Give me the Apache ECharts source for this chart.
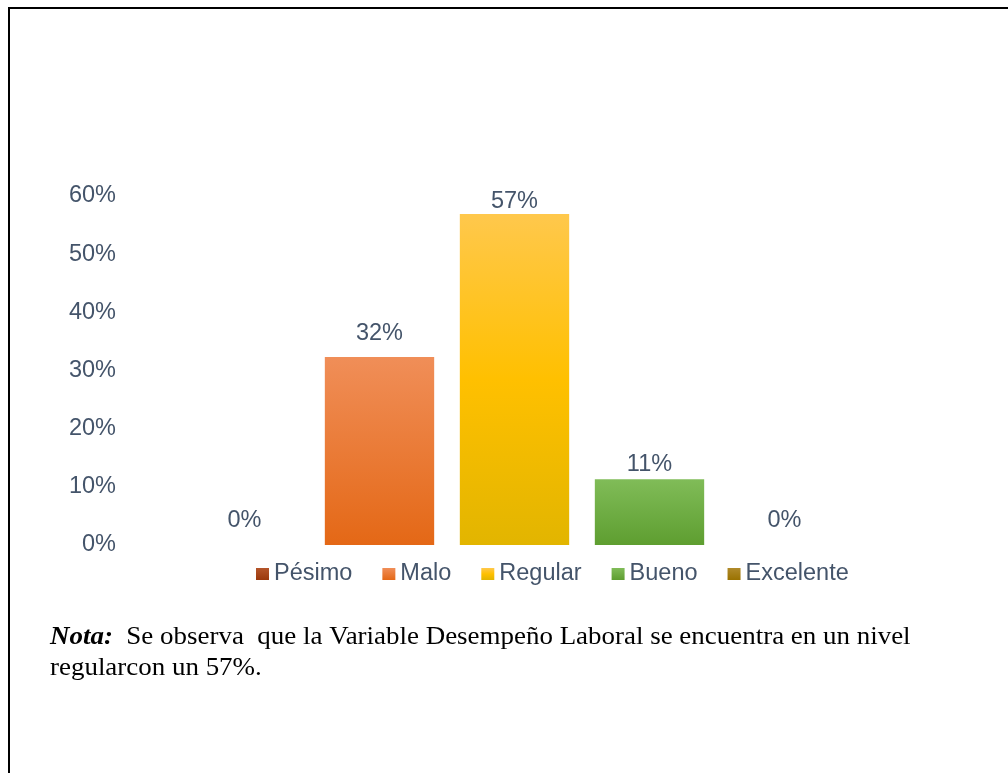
<!DOCTYPE html>
<html>
<head>
<meta charset="utf-8">
<script src="https://cdn.jsdelivr.net/npm/echarts@6/dist/echarts.min.js"></script>
<style>
html,body{margin:0;padding:0;background:#fff;}
#c{width:1008px;height:773px;}
</style>
</head>
<body>
<div id="c"></div>
<script>
const categories = ['Pésimo', 'Malo', 'Regular', 'Bueno', 'Excelente'];
const values = [0, 0.323, 0.569, 0.113, 0];
const yTicks = [0, 0.1, 0.2, 0.3, 0.4, 0.5, 0.6];
const noteTitle = 'Nota:';
const noteLine1 = '  Se observa  que la Variable Desempeño Laboral se encuentra en un nivel';
const noteLine2 = 'regularcon un 57%.';

const gradients = [
  ['#B4552A', '#9A380C'],
  ['#F08E58', '#E46816'],
  ['#FFC84C', '#FFC000', '#E2B500'],
  ['#80BC58', '#5E9E30'],
  ['#B08A2A', '#9A7200']
];
const labelGaps = [12, 12, 1, 3, 12];
function grad(cols) {
  const stops = cols.map((c, i) => ({ offset: i / (cols.length - 1), color: c }));
  return new echarts.graphic.LinearGradient(0, 0, 0, 1, stops);
}
const txt = '#44546A';
const font = "'Liberation Sans', Arial, sans-serif";
const serif = "'Liberation Serif', 'Times New Roman', serif";

const series = categories.map((name, i) => ({
  name: name,
  type: 'bar',
  stack: 'all',
  barWidth: '81%',
  data: categories.map((c, j) => (j === i ? values[i] : '-')),
  itemStyle: { color: grad(gradients[i]) },
  label: {
    show: true,
    position: 'top',
    distance: labelGaps[i],
    color: txt,
    fontFamily: font,
    fontSize: 23.5,
    formatter: p => Math.round(p.value * 100) + '%'
  }
}));

const chart = echarts.init(document.getElementById('c'));
chart.setOption({
  animation: false,
  grid: { left: 177, right: 156, top: 196, bottom: 228, containLabel: false },
  xAxis: {
    type: 'category',
    data: categories,
    axisLine: { show: false },
    axisTick: { show: false },
    axisLabel: { show: false },
    splitLine: { show: false }
  },
  yAxis: {
    type: 'value',
    min: yTicks[0],
    max: yTicks[yTicks.length - 1],
    interval: 0.1,
    axisLine: { show: false },
    axisTick: { show: false },
    splitLine: { show: false },
    axisLabel: {
      margin: 61,
      color: txt,
      fontFamily: font,
      fontSize: 23.5,
      padding: [6, 0, 0, 0],
      formatter: v => Math.round(v * 100) + '%'
    }
  },
  legend: {
    data: categories,
    left: 251,
    top: 557,
    itemWidth: 13,
    itemHeight: 12,
    itemGap: 30,
    icon: 'rect',
    textStyle: { color: txt, fontFamily: font, fontSize: 23.5 }
  },
  graphic: [
    {
      type: 'rect',
      shape: { x: 9, y: 8, width: 1200, height: 1000 },
      style: { fill: 'none', stroke: '#000', lineWidth: 2 },
      silent: true
    },
    {
      type: 'text',
      x: 50,
      y: 622,
      scaleX: 1.078,
      style: {
        text: '{b|' + noteTitle + '}{n|' + noteLine1 + '}\n{n|' + noteLine2 + '}',
        verticalAlign: 'top',
        rich: {
          b: { fontFamily: serif, fontSize: 25, fontWeight: 'bold', fontStyle: 'italic', fill: '#000', lineHeight: 31 },
          n: { fontFamily: serif, fontSize: 25, fill: '#000', lineHeight: 31 }
        }
      }
    }
  ],
  series: series
});
</script>
</body>
</html>
